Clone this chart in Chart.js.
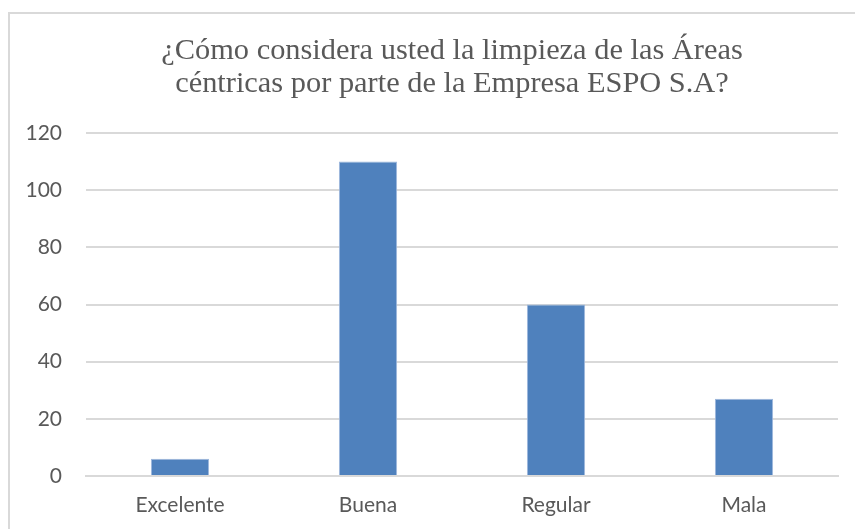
<!DOCTYPE html>
<html>
<head>
<meta charset="utf-8">
<script src="https://cdn.jsdelivr.net/npm/chart.js@4/dist/chart.umd.min.js"></script>
<style>
  html, body { margin: 0; padding: 0; background: #fff; overflow: hidden; }
  #wrap { position: relative; width: 855px; height: 529px; }
  #frame {
    position: absolute; left: 8px; top: 12px; width: 900px; height: 600px;
    border: 2px solid #d9d9d9; box-sizing: border-box;
  }
  #chart { position: absolute; left: 0; top: 0; }
  #title {
    position: absolute; left: 152px; width: 600px; top: 33px;
    text-align: center; color: #595959;
    font: 30.4px/33px "Liberation Serif", serif;
  }
</style>
</head>
<body>
<div id="wrap">
  <div id="frame"></div>
  <canvas id="chart" width="855" height="529"></canvas>
  <div id="title"></div>
</div>
<script>
const titleLines = [
  "¿Cómo considera usted la limpieza de las Áreas",
  "céntricas por parte de la Empresa ESPO S.A?",
];
const categories = ["Excelente", "Buena", "Regular", "Mala"];
const respuestas = [6, 110, 60, 27];
const yTicks = [0, 20, 40, 60, 80, 100, 120];

const labelFont = { family: "Lato, 'Open Sans', sans-serif", size: 21 };
const gray = "#595959";

// title sits centred in the frame, not over the canvas
document.getElementById("title").innerHTML = titleLines.join("<br>");

const ctx = document.getElementById("chart").getContext("2d");
new Chart(ctx, {
  type: "bar",
  data: {
    labels: categories,
    datasets: [
      {
        label: "Respuestas",
        data: respuestas,
        backgroundColor: "#4f81bd",
        borderColor: "#9db7dc",
        borderWidth: 1,
        categoryPercentage: 1,
        barPercentage: 0.31,
      },
    ],
  },
  options: {
    responsive: false,
    animation: false,
    layout: { padding: { top: 133, right: 17, bottom: 0, left: 0 } },
    plugins: {
      legend: { display: false },
      tooltip: { enabled: false },
      title: { display: false },
    },
    scales: {
      x: {
        afterFit: (scale) => {
          scale.height = 53;
        },
        grid: { display: false },
        border: { display: true, color: "#d9d9d9", width: 2 },
        ticks: { color: gray, font: labelFont, padding: 9 },
      },
      y: {
        min: 0,
        max: 120,
        afterBuildTicks: (scale) => {
          scale.ticks = yTicks.map((v) => ({ value: v }));
        },
        afterFit: (scale) => {
          scale.width = 86;
        },
        grid: { color: "#d9d9d9", lineWidth: 2, drawTicks: false },
        border: { display: false },
        ticks: { color: gray, font: labelFont, padding: 24 },
      },
    },
  },
});
</script>
</body>
</html>
